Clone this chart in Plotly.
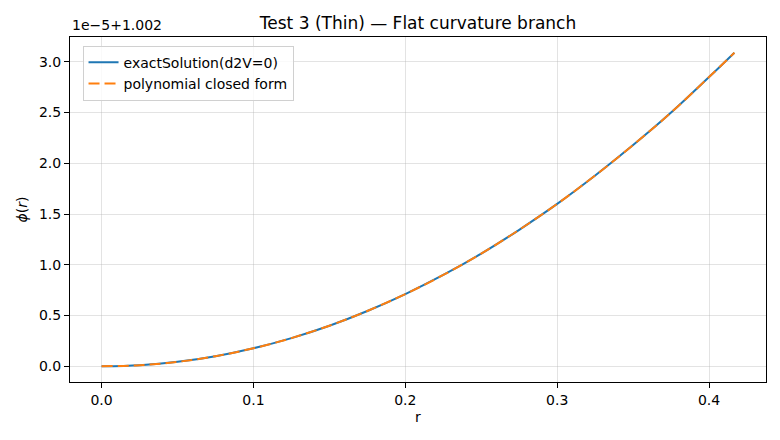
import plotly.graph_objects as go

# Data (phi offset in units of 1e-5 above 1.002)
r_vals = [0.0, 0.025, 0.05, 0.075, 0.1, 0.125, 0.15, 0.175, 0.2, 0.225, 0.25,
          0.275, 0.3, 0.325, 0.35, 0.375, 0.4, 0.4167]
phi_exact = [0.0, 0.011, 0.044, 0.100, 0.178, 0.278, 0.400, 0.545, 0.712, 0.900,
             1.110, 1.345, 1.600, 1.880, 2.180, 2.500, 2.850, 3.090]
phi_poly = [0.0, 0.011, 0.044, 0.100, 0.178, 0.278, 0.400, 0.545, 0.712, 0.900,
            1.110, 1.345, 1.600, 1.880, 2.180, 2.500, 2.850, 3.090]
x_ticks = [0.0, 0.1, 0.2, 0.3, 0.4]
y_ticks = [0.0, 0.5, 1.0, 1.5, 2.0, 2.5, 3.0]
y_tick_labels = ["0.0", "0.5", "1.0", "1.5", "2.0", "2.5", "3.0"]
offset_label = "1e\u22125+1.002"
title = "Test 3 (Thin) \u2014 Flat curvature branch"

FONT = "DejaVu Sans, sans-serif"

fig = go.Figure()
fig.add_trace(go.Scatter(x=r_vals, y=phi_exact, mode="lines", name="exactSolution(d2V=0)",
                         line=dict(color="#1f77b4", width=2, shape="spline")))
fig.add_trace(go.Scatter(x=r_vals, y=phi_poly, mode="lines", name="polynomial closed form",
                         line=dict(color="#ff7f0e", width=2, dash="11px,5px", shape="spline")))

axis_common = dict(showline=True, linecolor="black", linewidth=1, mirror=True,
                   ticks="outside", ticklen=5, tickcolor="black", tickwidth=1,
                   showgrid=True, gridcolor="rgba(176,176,176,0.35)", gridwidth=1,
                   zeroline=False, automargin=False,
                   tickfont=dict(family=FONT, size=14, color="black"))

# page body has an 8px default margin, so margins compensate for it
fig.update_layout(
    width=780, height=440,
    margin=dict(l=62, r=22, t=29, b=66),
    paper_bgcolor="white", plot_bgcolor="white",
    font=dict(family=FONT, size=14, color="black"),
    title=dict(text=title, x=(62 + 758) / 2 / 780, xanchor="center",
               y=1 - 15 / 440, yanchor="middle",
               font=dict(family=FONT, size=17, color="black")),
    xaxis=dict(range=[-0.0208, 0.4375], tickvals=x_ticks,
               ticktext=[f"{v:.1f}" for v in x_ticks],
               title=dict(text="r", font=dict(family=FONT, size=14), standoff=5),
               **axis_common),
    yaxis=dict(range=[-0.1545, 3.2445], tickvals=y_ticks, ticktext=y_tick_labels,
               title=dict(text="<i>\u03d5</i>(<i>r</i>)", font=dict(family=FONT, size=14), standoff=8),
               **axis_common),
    legend=dict(x=0.018, y=0.975, xanchor="left", yanchor="top",
                bgcolor="rgba(255,255,255,0.8)", bordercolor="#d0d0d0", borderwidth=1,
                font=dict(family=FONT, size=14, color="black"), tracegroupgap=0),
    showlegend=True,
)

fig.add_annotation(text=offset_label, xref="paper", yref="paper", x=0, y=1,
                   xanchor="left", yanchor="bottom", yshift=2, showarrow=False,
                   font=dict(family=FONT, size=14, color="black"))

fig.write_html("out.html")
